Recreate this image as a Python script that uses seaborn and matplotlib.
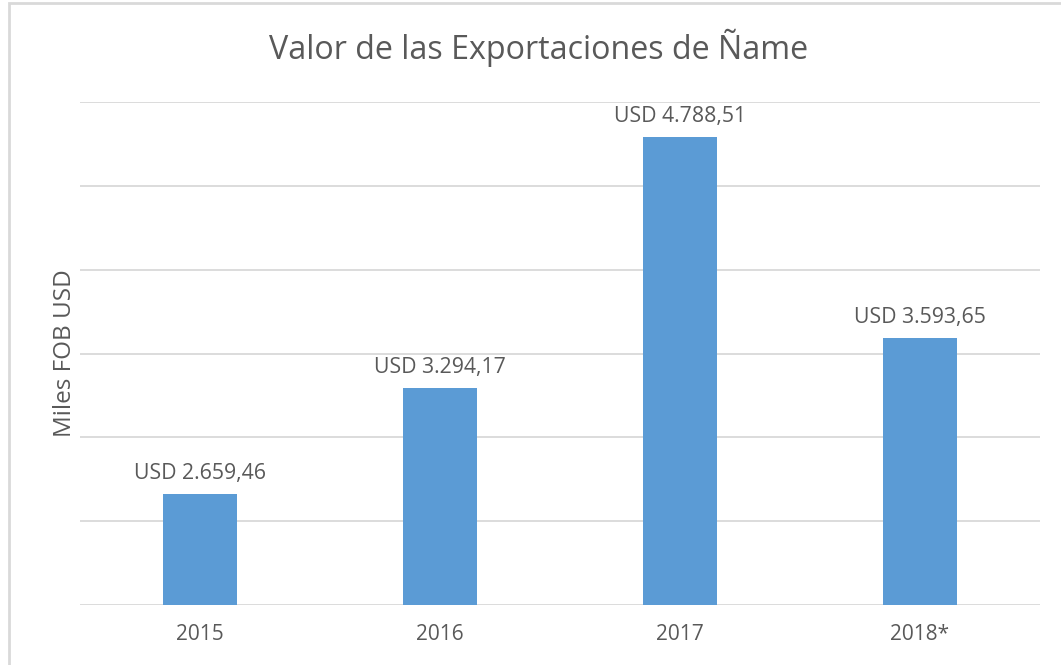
import matplotlib
matplotlib.use("Agg")
import matplotlib.pyplot as plt
import matplotlib.patches as patches
import numpy as np
import pandas as pd
import seaborn as sns

years = ["2015", "2016", "2017", "2018*"]
valores = [2659.46, 3294.17, 4788.51, 3593.65]

df = pd.DataFrame({"anio": years, "valor": valores})

sns.set_style("white")
plt.rcParams['font.family'] = ['Open Sans', 'DejaVu Sans']
gris = "#595959"

fig = plt.figure(figsize=(10.61, 6.65), dpi=100)
ax = fig.add_axes([80/1061, 60/665, 960/1061, 503/665])

sns.barplot(data=df, x="anio", y="valor", color="#5B9BD5", width=0.31,
            saturation=1, linewidth=0, ax=ax, zorder=3)

ax.set_ylim(2000, 5000)
ax.set_yticks(np.arange(2000, 5001, 500))
ax.set_yticklabels([])
ax.tick_params(axis="y", length=0, pad=0)
ax.tick_params(axis="x", length=0, labelsize=15, colors=gris, pad=14)
ax.yaxis.grid(True, color="#D9D9D9", linewidth=1.3, zorder=0)
for s in ax.spines.values():
    s.set_visible(False)

def fmt(v):
    s = f"{v:,.2f}"
    return "USD " + s.replace(",", "X").replace(".", ",").replace("X", ".")

for i, v in enumerate(valores):
    ax.text(i, v + 60, fmt(v), ha="center", va="bottom", fontsize=15.3, color=gris)

ax.set_xlabel("")
ax.set_ylabel("Miles FOB USD", fontsize=17.5, color=gris, labelpad=2)
fig.text(539/1061, 1 - 48/665, "Valor de las Exportaciones de Ñame", ha="center",
         va="center", fontsize=23.2, color=gris)

fig.patches.append(patches.Rectangle((9/1061, -0.1), 1.2, 1 - 3/665 + 0.1,
                                     transform=fig.transFigure, fill=False,
                                     edgecolor="#D9D9D9", linewidth=2))

fig.savefig("out.png", dpi=100)
